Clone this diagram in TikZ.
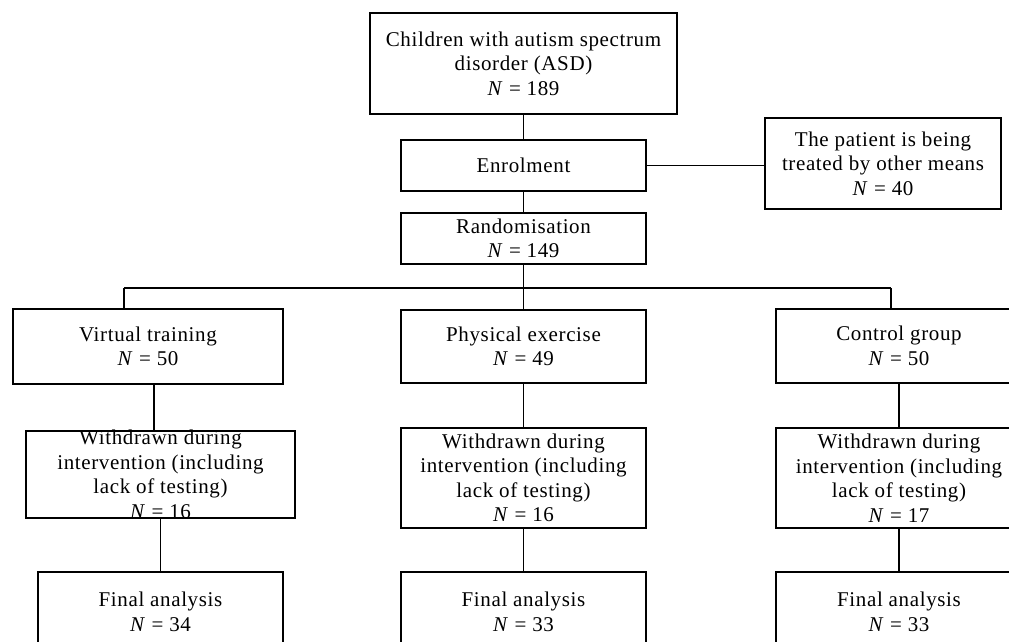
\documentclass[tikz,border=0pt]{standalone}
\usepackage{fontspec}
\setmainfont{Liberation Serif}[LetterSpace=3]

\tikzset{
  stage/.style={draw, line width=1.5pt, align=center, inner sep=0pt,
    font=\fontsize{21}{24.5}\selectfont},
  link/.style={line width=1.5pt},
}

\begin{document}
\begin{tikzpicture}[x=1pt,y=-1pt]
  \clip (0,0) rectangle (1009,641);
  % top of the chart
  \node[stage, minimum width=307pt, minimum height=101pt] (asd) at (523.5,63.5)
    {Children with autism spectrum\\disorder (ASD)\\\textit{N} = 189};
  \node[stage, minimum width=245pt, minimum height=51pt] (enrol) at (523.5,165.5) {Enrolment};
  \node[stage, minimum width=236pt, minimum height=91pt] (other) at (883,163.5)
    {The patient is being\\treated by other means\\\textit{N} = 40};
  \node[stage, minimum width=245pt, minimum height=51pt] (rand) at (523.5,238.5)
    {Randomisation\\\textit{N} = 149};
  % groups
  \node[stage, minimum width=270pt, minimum height=75pt] (vt) at (148,346.5)
    {Virtual training\\\textit{N} = 50};
  \node[stage, minimum width=245pt, minimum height=73pt] (pe) at (523.5,346.5)
    {Physical exercise\\\textit{N} = 49};
  \node[stage, minimum width=246pt, minimum height=74pt] (cg) at (899,346)
    {Control group\\\textit{N} = 50};
  % withdrawn
  \node[stage, minimum width=269pt, minimum height=87pt] (vtw) at (160.5,474.5) {};
  \node[stage, draw=none] (vtwtext) at (vtw)
    {Withdrawn during\\intervention (including\\lack of testing)\\\textit{N} = 16};
  \node[stage, minimum width=245pt, minimum height=100pt] (pew) at (523.5,478)
    {Withdrawn during\\intervention (including\\lack of testing)\\\textit{N} = 16};
  \node[stage, minimum width=246pt, minimum height=100pt] (cgw) at (899,478)
    {Withdrawn during\\intervention (including\\lack of testing)\\\textit{N} = 17};
  % final analysis
  \node[stage, minimum width=245pt, minimum height=80pt] (vtf) at (160.5,612)
    {Final analysis\\\textit{N} = 34};
  \node[stage, minimum width=245pt, minimum height=80pt] (pef) at (523.5,612)
    {Final analysis\\\textit{N} = 33};
  \node[stage, minimum width=246pt, minimum height=80pt] (cgf) at (899,612)
    {Final analysis\\\textit{N} = 33};

  % connectors
  \coordinate (split) at (523.5,288);
  \coordinate (vtjoin) at (124,288);
  \coordinate (cgjoin) at (891,288);
  \draw[link] (asd) -- (enrol);
  \draw[link] (enrol) -- (rand);
  \draw[link] (enrol.east) -- (enrol.east -| other.west);
  \draw[link] (rand) -- (split);
  \draw[link] (vtjoin) -- (cgjoin);
  \draw[link] (vtjoin) -- (vtjoin |- vt.north);
  \draw[link] (split) -- (pe);
  \draw[link] (cgjoin) -- (cgjoin |- cg.north);
  \draw[link] ([xshift=6pt]vt.south) -- ([xshift=6pt]vt.south |- vtw.north);
  \draw[link] (vtw) -- (vtf);
  \draw[link] (pe) -- (pew);
  \draw[link] (pew) -- (pef);
  \draw[link] (cg) -- (cgw);
  \draw[link] (cgw) -- (cgf);
\end{tikzpicture}
\end{document}
